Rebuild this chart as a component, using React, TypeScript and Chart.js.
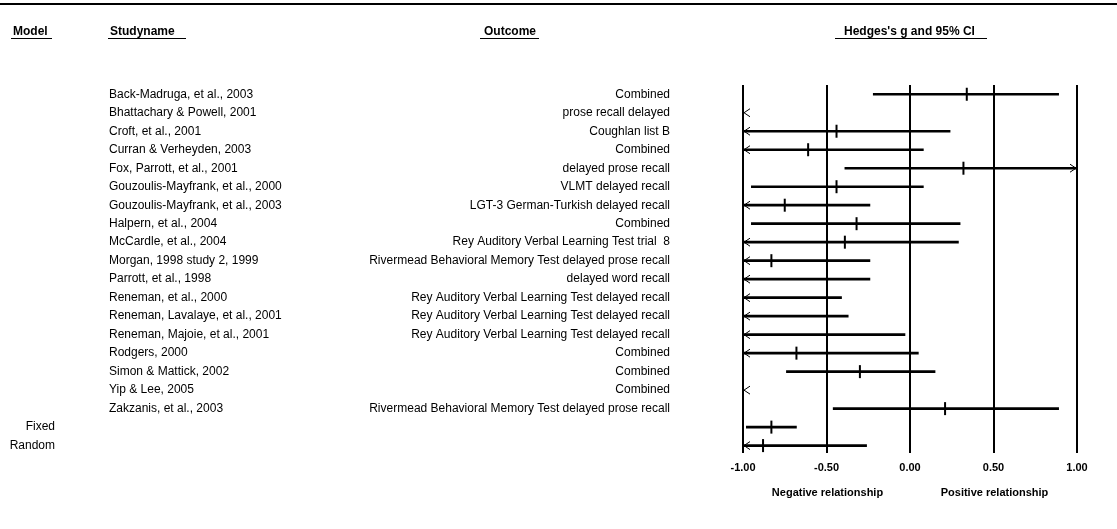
import React, { useEffect, useRef } from "react";
import { Chart, registerables } from "chart.js";

Chart.register(...registerables);

const studyNames = [
  "Back-Madruga, et al., 2003",
  "Bhattachary & Powell, 2001",
  "Croft, et al., 2001",
  "Curran & Verheyden, 2003",
  "Fox, Parrott, et al., 2001",
  "Gouzoulis-Mayfrank, et al., 2000",
  "Gouzoulis-Mayfrank, et al., 2003",
  "Halpern, et al., 2004",
  "McCardle, et al., 2004",
  "Morgan, 1998 study 2, 1999",
  "Parrott, et al., 1998",
  "Reneman, et al., 2000",
  "Reneman, Lavalaye, et al., 2001",
  "Reneman, Majoie, et al., 2001",
  "Rodgers, 2000",
  "Simon & Mattick, 2002",
  "Yip & Lee, 2005",
  "Zakzanis, et al., 2003",
  "",
  "",
];

const outcomes = [
  "Combined",
  "prose recall delayed",
  "Coughlan list B",
  "Combined",
  "delayed prose recall",
  "VLMT delayed recall",
  "LGT-3 German-Turkish delayed recall",
  "Combined",
  "Rey Auditory Verbal Learning Test trial  8",
  "Rivermead Behavioral Memory Test delayed prose recall",
  "delayed word recall",
  "Rey Auditory Verbal Learning Test delayed recall",
  "Rey Auditory Verbal Learning Test delayed recall",
  "Rey Auditory Verbal Learning Test delayed recall",
  "Combined",
  "Combined",
  "Combined",
  "Rivermead Behavioral Memory Test delayed prose recall",
  "",
  "",
];

const models = ["", "", "", "", "", "", "", "", "", "", "", "", "", "", "", "", "", "", "Fixed", "Random"];

const hedgesG = [0.34, -1.9, -0.44, -0.61, 0.32, -0.44, -0.75, -0.32, -0.39, -0.83, -1.04, -1.5, -1.4, -1.07, -0.68, -0.3, -2.2, 0.21, -0.83, -0.88];
const lowerCI = [-0.22, -2.6, -1.12, -1.3, -0.39, -0.95, -1.27, -0.95, -1.07, -1.41, -1.83, -2.6, -2.4, -2.1, -1.4, -0.74, -3.1, -0.46, -0.98, -1.5];
const upperCI = [0.89, -1.2, 0.24, 0.08, 1.03, 0.08, -0.24, 0.3, 0.29, -0.24, -0.24, -0.41, -0.37, -0.03, 0.05, 0.15, -1.3, 0.89, -0.68, -0.26];

const xTicks = [-1, -0.5, 0, 0.5, 1];
const FONT = '"Liberation Sans", Arial, sans-serif';

const textPlugin = {
  id: "forestText",
  afterDraw(chart: any) {
    const ctx = chart.ctx;
    const xs = chart.scales.x;
    const ys = chart.scales.y;
    ctx.save();
    ctx.fillStyle = "#000";
    ctx.strokeStyle = "#000";

    // top rule
    ctx.lineWidth = 2;
    ctx.beginPath();
    ctx.moveTo(0, 4);
    ctx.lineTo(chart.width, 4);
    ctx.stroke();

    // headers
    ctx.font = `bold 12px ${FONT}`;
    ctx.textBaseline = "middle";
    ctx.textAlign = "left";
    ctx.fillText("Model", 13, 32);
    ctx.fillText("Studyname", 110, 32);
    ctx.fillText("Outcome", 484, 32);
    ctx.fillText("Hedges's g and 95% CI", 844, 32);
    ctx.lineWidth = 1;
    const ul = [[11, 52], [108, 186], [480, 539], [835, 987]];
    ul.forEach(([a, b]) => {
      ctx.beginPath();
      ctx.moveTo(a, 38.5);
      ctx.lineTo(b, 38.5);
      ctx.stroke();
    });

    // rows
    ctx.font = `12px ${FONT}`;
    for (let i = 0; i < studyNames.length; i++) {
      const y = ys.getPixelForValue(i);
      ctx.textAlign = "left";
      ctx.fillText(studyNames[i], 109, y);
      ctx.textAlign = "right";
      ctx.fillText(outcomes[i], 670, y);
      ctx.fillText(models[i], 55, y);
    }

    // arrows for clipped intervals
    const xmin = xs.min;
    const xmax = xs.max;
    ctx.lineWidth = 1;
    for (let i = 0; i < lowerCI.length; i++) {
      const y = ys.getPixelForValue(i);
      if (lowerCI[i] < xmin) {
        const x = xs.getPixelForValue(xmin);
        ctx.beginPath();
        ctx.moveTo(x + 7, y - 4);
        ctx.lineTo(x + 1, y);
        ctx.lineTo(x + 7, y + 4);
        ctx.stroke();
      }
      if (upperCI[i] > xmax) {
        const x = xs.getPixelForValue(xmax);
        ctx.beginPath();
        ctx.moveTo(x - 7, y - 4);
        ctx.lineTo(x - 1, y);
        ctx.lineTo(x - 7, y + 4);
        ctx.stroke();
      }
    }

    // relationship notes
    ctx.font = `bold 11px ${FONT}`;
    ctx.textAlign = "center";
    ctx.fillText("Negative relationship", xs.getPixelForValue(-0.5) + 1, 493);
    ctx.fillText("Positive relationship", xs.getPixelForValue(0.5) + 1, 493);
    ctx.restore();
  },
};

export default function App() {
  const ref = useRef<HTMLCanvasElement | null>(null);
  useEffect(() => {
    document.body.style.margin = "0";
    const canvas = ref.current;
    if (!canvas) return;
    const chart = new Chart(canvas, {
      type: "bar",
      data: {
        datasets: [
          {
            type: "bar",
            indexAxis: "y",
            data: lowerCI.map((lo, i) => ({ x: [lo, upperCI[i]], y: i })) as any,
            backgroundColor: "#000",
            borderWidth: 0,
            barThickness: 2,
            clip: 0,
          } as any,
          {
            type: "scatter",
            data: hedgesG.map((g, i) => ({ x: g, y: i })),
            pointStyle: "line",
            rotation: 90,
            radius: 6.5,
            borderWidth: 2,
            borderColor: "#000",
            backgroundColor: "#000",
            clip: 0,
          } as any,
        ],
      },
      options: {
        responsive: false,
        animation: false,
        events: [],
        indexAxis: "y",
        layout: { padding: { left: 743, right: 40, top: 85, bottom: 46 } },
        plugins: { legend: { display: false }, tooltip: { enabled: false } },
        scales: {
          x: {
            type: "linear",
            min: -1,
            max: 1,
            offset: false,
            position: "bottom",
            afterBuildTicks: (s: any) => {
              s.ticks = xTicks.map((v) => ({ value: v }));
            },
            afterFit: (s: any) => {
              s.height = 30;
            },
            grid: { color: "#000", lineWidth: 2, drawTicks: false, offset: false },
            border: { display: false },
            ticks: {
              color: "#000",
              padding: 8,
              maxRotation: 0,
              font: { family: FONT, size: 11, weight: "bold" },
              callback: (v: any) => Number(v).toFixed(2),
            },
          },
          y: {
            type: "linear",
            min: -0.5,
            max: 19.4,
            reverse: true,
            offset: false,
            display: false,
            grid: { offset: false },
          },
        },
      } as any,
      plugins: [textPlugin],
    });
    return () => chart.destroy();
  }, []);
  return (
    <div style={{ width: 1117, height: 529 }}>
      <canvas ref={ref} width={1117} height={529} style={{ display: "block" }} />
    </div>
  );
}
